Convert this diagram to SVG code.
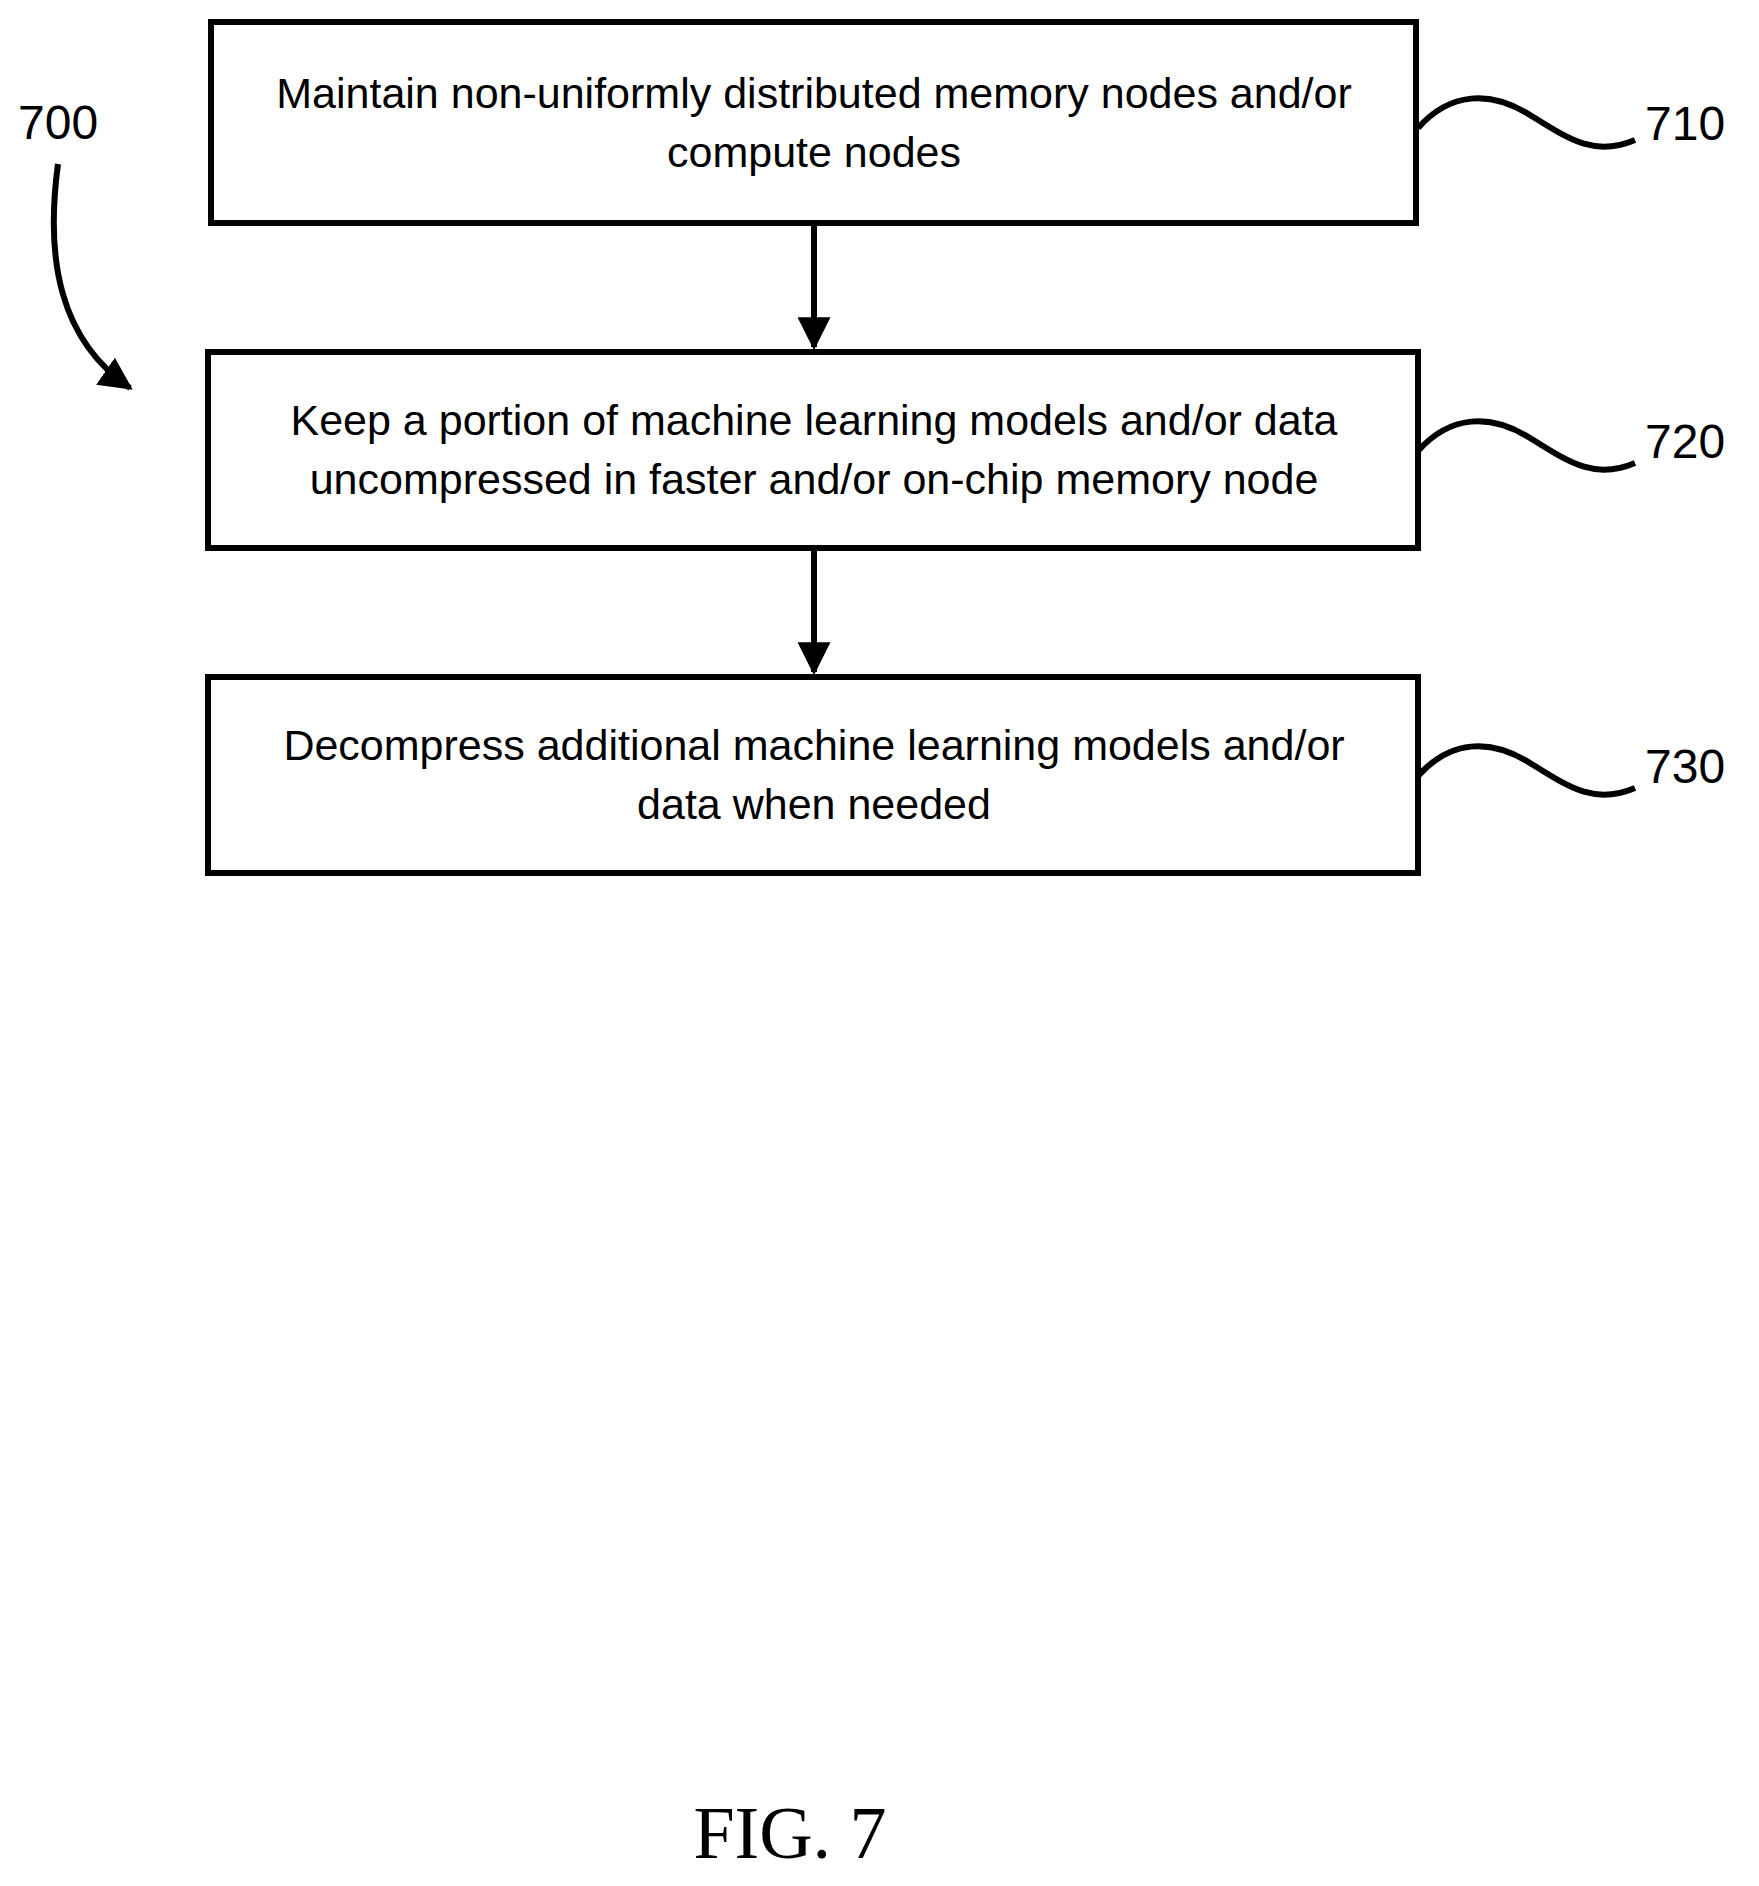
<svg xmlns="http://www.w3.org/2000/svg" width="1759" height="1886" viewBox="0 0 1759 1886">
<style>
.box{fill:#fff;stroke:#000;stroke-width:6}
.t{font-family:"Liberation Sans",Arial,sans-serif;font-size:43px;text-anchor:middle}
.lab{font-family:"Liberation Sans",Arial,sans-serif;font-size:48px}
.c{fill:none;stroke:#000;stroke-width:6}
</style>
<defs>
<marker id="a2" viewBox="0 0 10 10" refX="9" refY="5" markerWidth="5.5" markerHeight="5.5" orient="auto"><path d="M0,0 L10,5 L0,10 z"/></marker>
</defs>
<rect width="1759" height="1886" fill="#fff"/>
<g id="n710"><rect class="box" x="211" y="22" width="1205" height="201"/>
<text class="t" x="814" y="108">Maintain non-uniformly distributed memory nodes and/or</text>
<text class="t" x="814" y="167">compute nodes</text></g>
<g id="n720"><rect class="box" x="208" y="352" width="1210" height="196"/>
<text class="t" x="814" y="435">Keep a portion of machine learning models and/or data</text>
<text class="t" x="814" y="494">uncompressed in faster and/or on-chip memory node</text></g>
<g id="n730"><rect class="box" x="208" y="677" width="1210" height="196"/>
<text class="t" x="814" y="760">Decompress additional machine learning models and/or</text>
<text class="t" x="814" y="819">data when needed</text></g>
<g id="connectors">
<line class="c" x1="814" y1="223" x2="814" y2="347" marker-end="url(#a2)"/>
<line class="c" x1="814" y1="548" x2="814" y2="672" marker-end="url(#a2)"/>
<path class="c" d="M1418,128 C1450,92 1490,90 1530,115 S1595,157 1635,140"/>
<path class="c" d="M1418,451 C1450,415 1490,413 1530,438 S1595,480 1635,463"/>
<path class="c" d="M1418,776 C1450,740 1490,738 1530,763 S1595,805 1635,788"/>
<path class="c" d="M58,164 C45,260 60,340 130,388" marker-end="url(#a2)"/>
</g>
<text class="lab" x="1645" y="140">710</text>
<text class="lab" x="1645" y="458">720</text>
<text class="lab" x="1645" y="783">730</text>
<text class="lab" x="18" y="139">700</text>
<text x="790" y="1858" style="font-family:'Liberation Serif',serif;font-size:74px;text-anchor:middle">FIG. 7</text>
</svg>
